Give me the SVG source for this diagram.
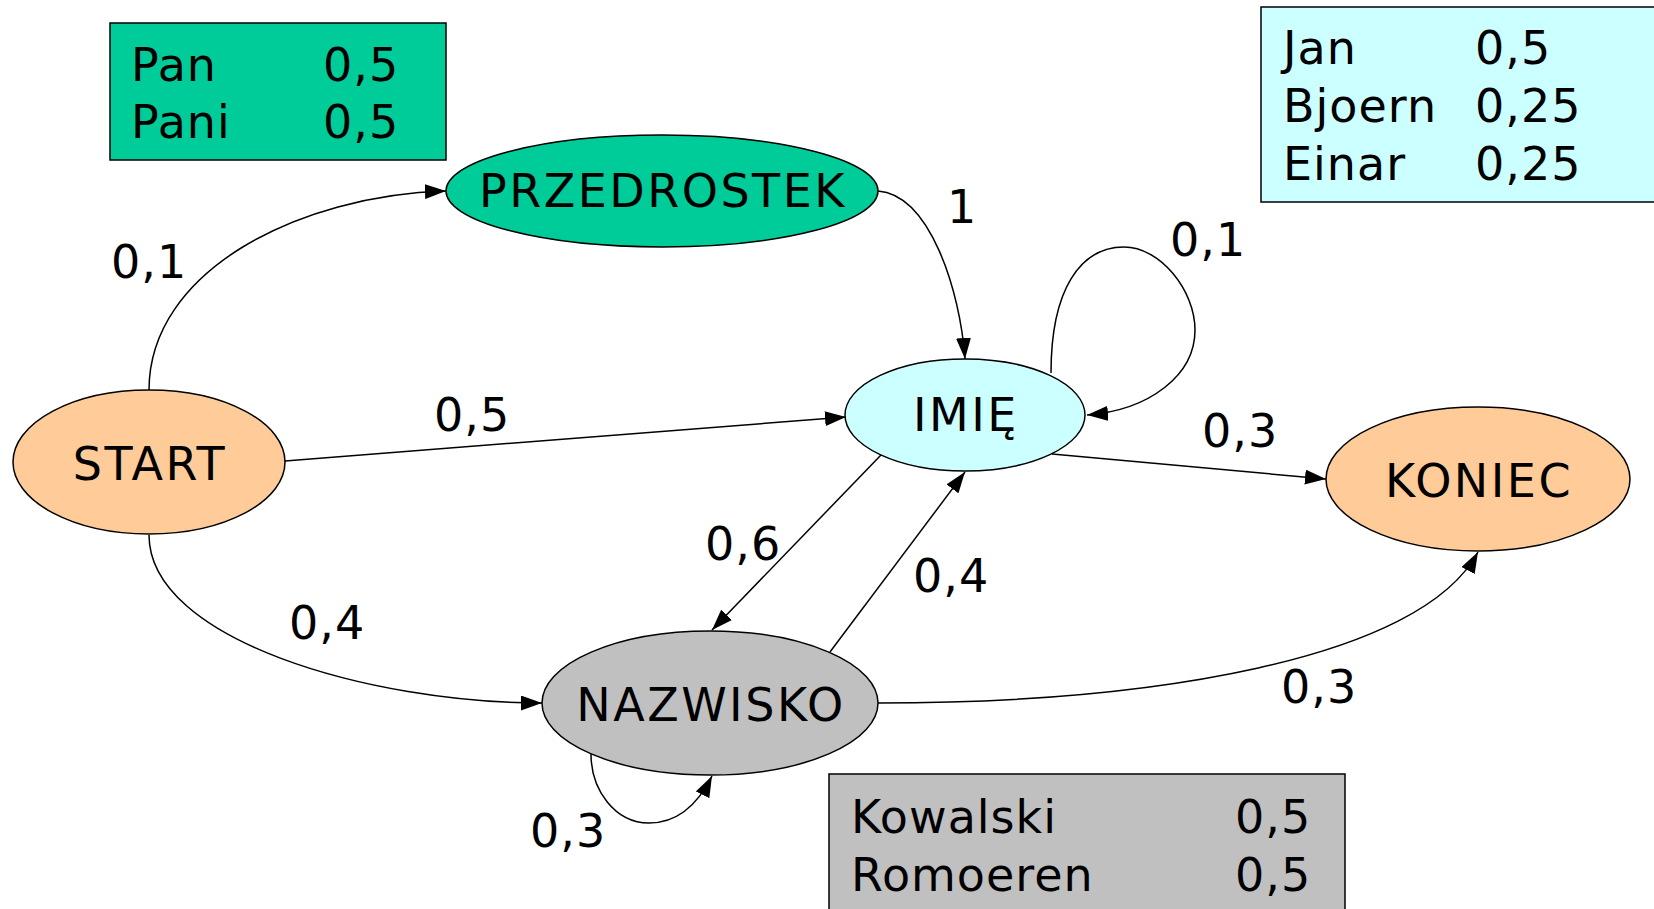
<svg xmlns="http://www.w3.org/2000/svg" width="1654" height="909" viewBox="0 0 1654 909">
<style>
text{font-family:"DejaVu Sans","Liberation Sans",sans-serif;font-size:46px;fill:#000;letter-spacing:1px}
.node{stroke:#000;stroke-width:1.5}
.box{stroke:#000;stroke-width:1.5}
.edge{fill:none;stroke:#000;stroke-width:1.5}
.mid{text-anchor:middle;letter-spacing:2.5px}
</style>
<defs>
<marker id="arr" markerUnits="userSpaceOnUse" markerWidth="21" markerHeight="15" refX="21" refY="7.5" orient="auto">
<path d="M0,0 L21,7.5 L0,15 z" fill="#000"/>
</marker>
</defs>
<rect width="1654" height="909" fill="#fff"/>
<g id="box-przedrostek">
<rect class="box" x="110" y="23" width="336" height="137" fill="#00CC99"/>
<text x="131" y="81">Pan</text><text x="323" y="81">0,5</text>
<text x="131" y="138">Pani</text><text x="323" y="138">0,5</text>
</g>
<g id="box-imie">
<rect class="box" x="1261" y="7" width="400" height="195" fill="#CCFFFF"/>
<text x="1283" y="64">Jan</text><text x="1475" y="64">0,5</text>
<text x="1283" y="122">Bjoern</text><text x="1475" y="122">0,25</text>
<text x="1283" y="180">Einar</text><text x="1475" y="180">0,25</text>
</g>
<g id="box-nazwisko">
<rect class="box" x="829" y="774" width="516" height="150" fill="#C0C0C0"/>
<text x="851" y="833">Kowalski</text><text x="1235" y="833">0,5</text>
<text x="851" y="891">Romoeren</text><text x="1235" y="891">0,5</text>
</g>
<g id="connectors">
<path class="edge" d="M149,390 C149,270 300,195 446,191" marker-end="url(#arr)"/>
<path class="edge" d="M285,461 L846,417" marker-end="url(#arr)"/>
<path class="edge" d="M878,191 C930,195 960,290 965,359" marker-end="url(#arr)"/>
<path class="edge" d="M1051,373 C1051,290 1080,247 1124,247 C1160,247 1195,290 1195,330 C1195,375 1150,410 1087,415" marker-end="url(#arr)"/>
<path class="edge" d="M1052,454 L1326,479" marker-end="url(#arr)"/>
<path class="edge" d="M881,455 L712,630" marker-end="url(#arr)"/>
<path class="edge" d="M830,652 L965,472" marker-end="url(#arr)"/>
<path class="edge" d="M149,535 C149,640 370,703 542,703" marker-end="url(#arr)"/>
<path class="edge" d="M591,754 C591,790 615,823 649,823 C680,823 700,800 712,776" marker-end="url(#arr)"/>
<path class="edge" d="M878,703 C1150,703 1420,660 1478,552" marker-end="url(#arr)"/>
<text x="111" y="278">0,1</text>
<text x="434" y="431">0,5</text>
<text x="947" y="223">1</text>
<text x="1170" y="256">0,1</text>
<text x="1202" y="447">0,3</text>
<text x="705" y="560">0,6</text>
<text x="913" y="592">0,4</text>
<text x="289" y="639">0,4</text>
<text x="530" y="847">0,3</text>
<text x="1281" y="703">0,3</text>
</g>
<g id="node-przedrostek">
<ellipse class="node" cx="662" cy="191" rx="216" ry="56" fill="#00CC99"/>
<text class="mid" x="663" y="207">PRZEDROSTEK</text>
</g>
<g id="node-start">
<ellipse class="node" cx="149" cy="462" rx="136" ry="72" fill="#FFCC99"/>
<text class="mid" x="150" y="480">START</text>
</g>
<g id="node-imie">
<ellipse class="node" cx="965" cy="415" rx="120" ry="56" fill="#CCFFFF"/>
<text class="mid" x="966" y="431">IMIĘ</text>
</g>
<g id="node-koniec">
<ellipse class="node" cx="1478" cy="479" rx="152" ry="72" fill="#FFCC99"/>
<text class="mid" x="1479" y="497">KONIEC</text>
</g>
<g id="node-nazwisko">
<ellipse class="node" cx="710" cy="703" rx="168" ry="72" fill="#C0C0C0"/>
<text class="mid" x="711" y="721">NAZWISKO</text>
</g>
</svg>
